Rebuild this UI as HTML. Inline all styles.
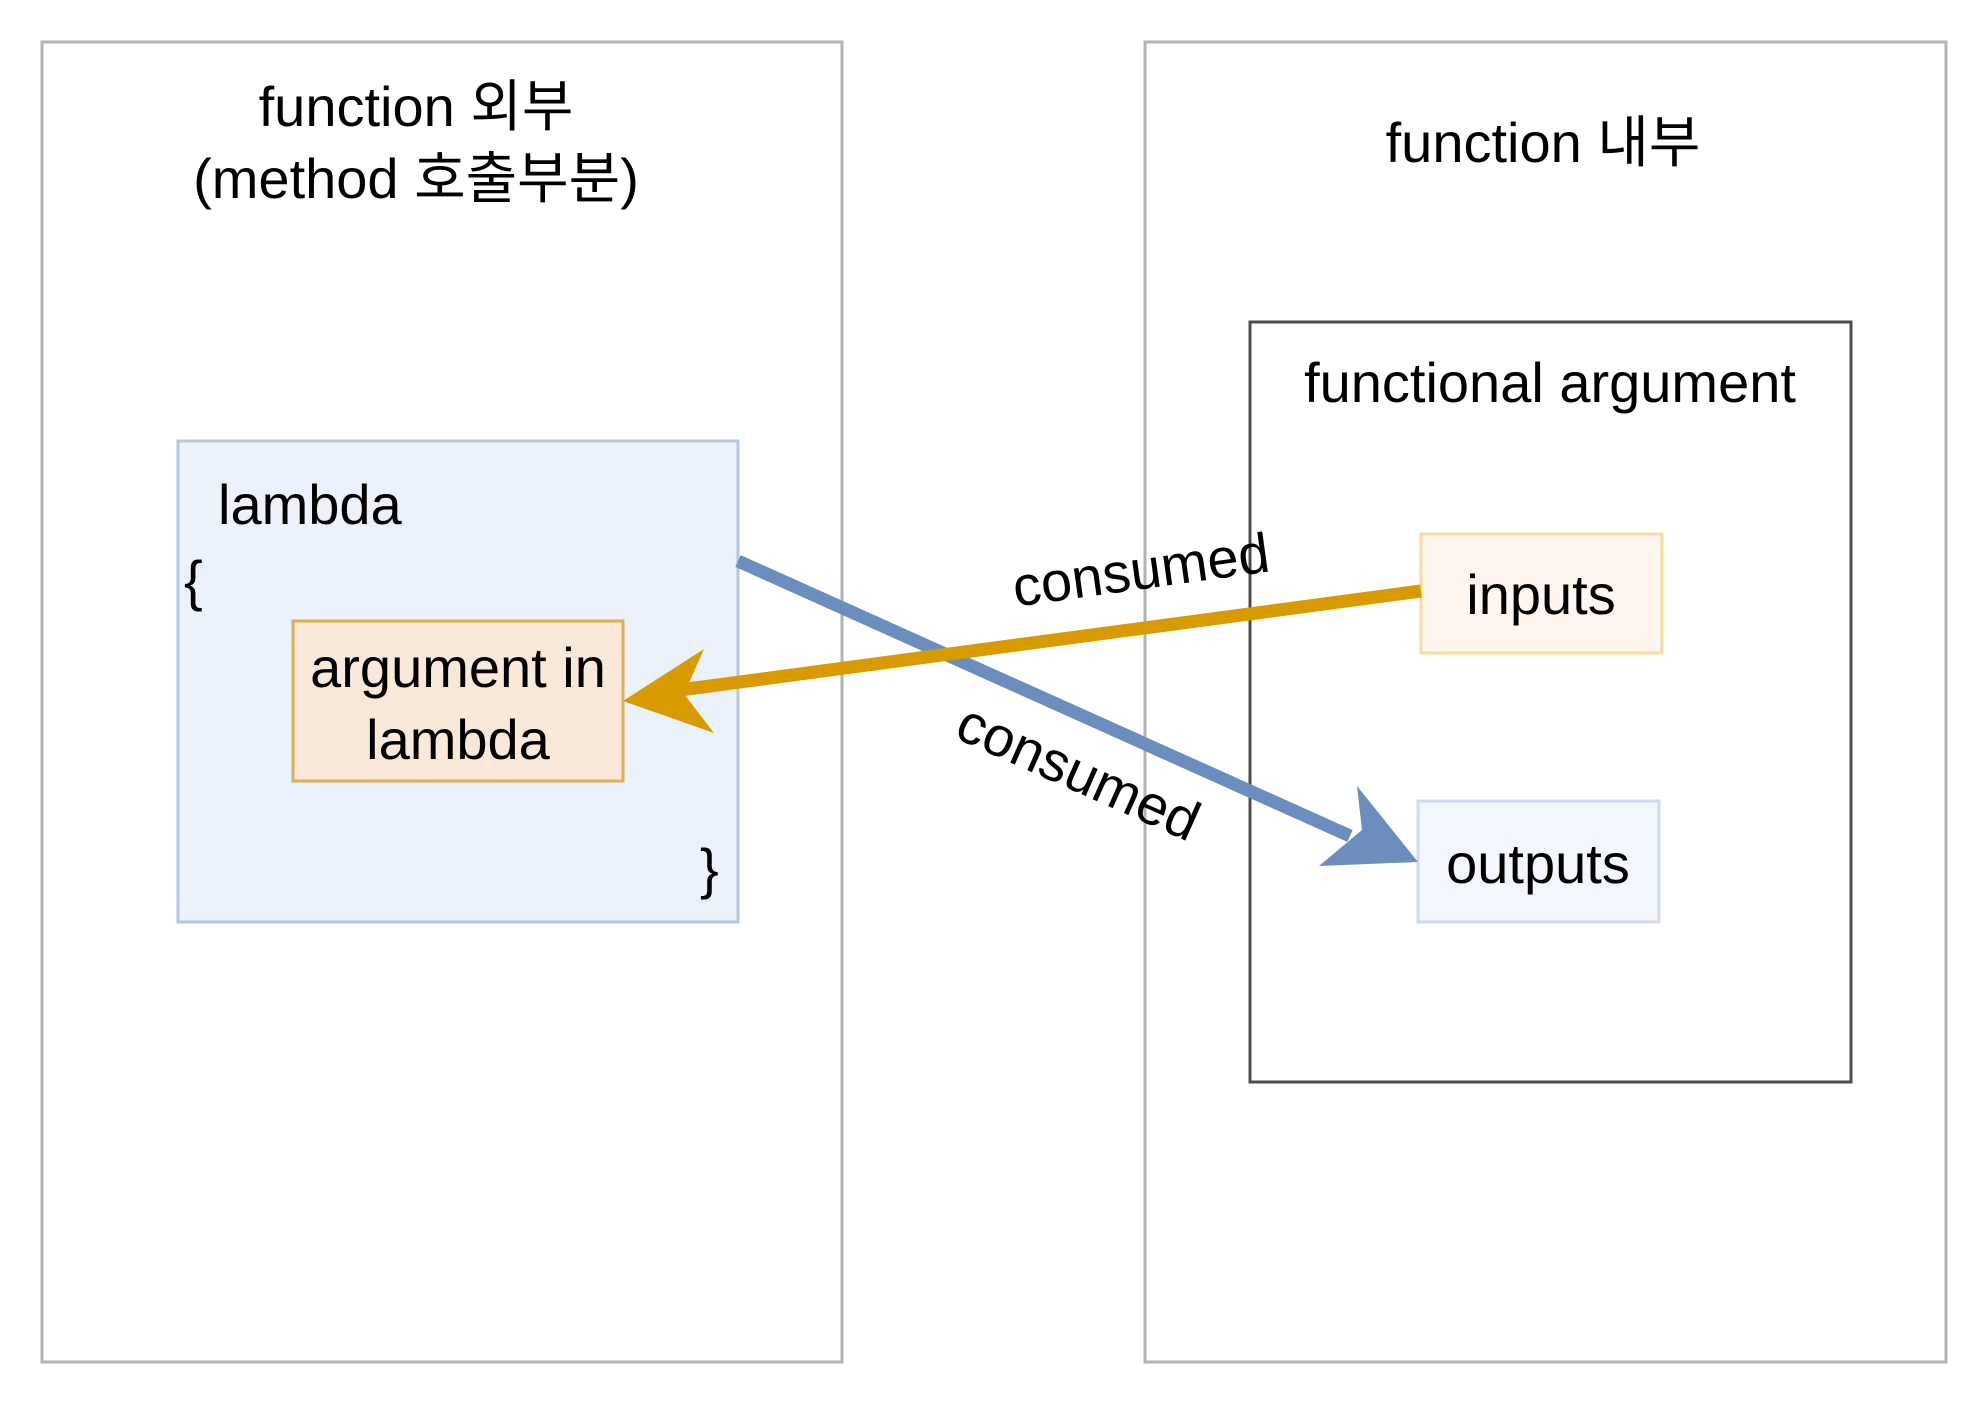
<!DOCTYPE html>
<html><head><meta charset="utf-8"><style>html,body{margin:0;padding:0;background:#fff}svg{display:block}</style></head>
<body>
<svg width="1988" height="1404" viewBox="0 0 1988 1404" xmlns="http://www.w3.org/2000/svg" font-family="'Liberation Sans','Noto Sans CJK KR',sans-serif" font-size="56" fill="#000">
<rect x="42" y="42" width="800" height="1320" fill="#fff" stroke="#b3b3b3" stroke-width="3"/>
<rect x="1145" y="42" width="801" height="1320" fill="#fff" stroke="#b3b3b3" stroke-width="3"/>
<text x="416" y="126" text-anchor="middle">function 외부</text>
<text x="416" y="198" text-anchor="middle">(method 호출부분)</text>
<text x="1543" y="162" text-anchor="middle">function 내부</text>
<rect x="1250" y="322" width="601" height="760" fill="#fff" stroke="#4d4d4d" stroke-width="3"/>
<text x="1550" y="402" text-anchor="middle">functional argument</text>
<rect x="178" y="441" width="560" height="481" fill="#ecf2fc" stroke="#b5c7e0" stroke-width="3"/>
<text x="218" y="524">lambda</text>
<text x="184" y="600">{</text>
<text x="700" y="888">}</text>
<rect x="293" y="621" width="330" height="160" fill="#fae9d9" stroke="#e0b050" stroke-width="3"/>
<text x="458" y="687" text-anchor="middle">argument in</text>
<text x="458" y="759" text-anchor="middle">lambda</text>
<rect x="1421" y="534" width="241" height="119" fill="#fff7ef" stroke="#f7dba0" stroke-width="3"/>
<text x="1541" y="614" text-anchor="middle">inputs</text>
<rect x="1418" y="801" width="241" height="121" fill="#f2f6fd" stroke="#cfdbee" stroke-width="3"/>
<text x="1538" y="883" text-anchor="middle">outputs</text>
<!-- blue arrow -->
<line x1="738" y1="561" x2="1350" y2="836" stroke="#6c8ebf" stroke-width="13"/>
<polygon points="1418,862 1357,786 1362,830 1319,866" fill="#6c8ebf"/>
<!-- orange arrow -->
<line x1="1421" y1="591" x2="680" y2="690" stroke="#d79b00" stroke-width="13"/>
<polygon points="623,701 704,649 684,694 714,733" fill="#d79b00"/>
<text x="1141" y="589" text-anchor="middle" transform="rotate(-7.9 1141 571)">consumed</text>
<text x="1078" y="791" text-anchor="middle" transform="rotate(24 1078 773)">consumed</text>
</svg>
</body></html>
